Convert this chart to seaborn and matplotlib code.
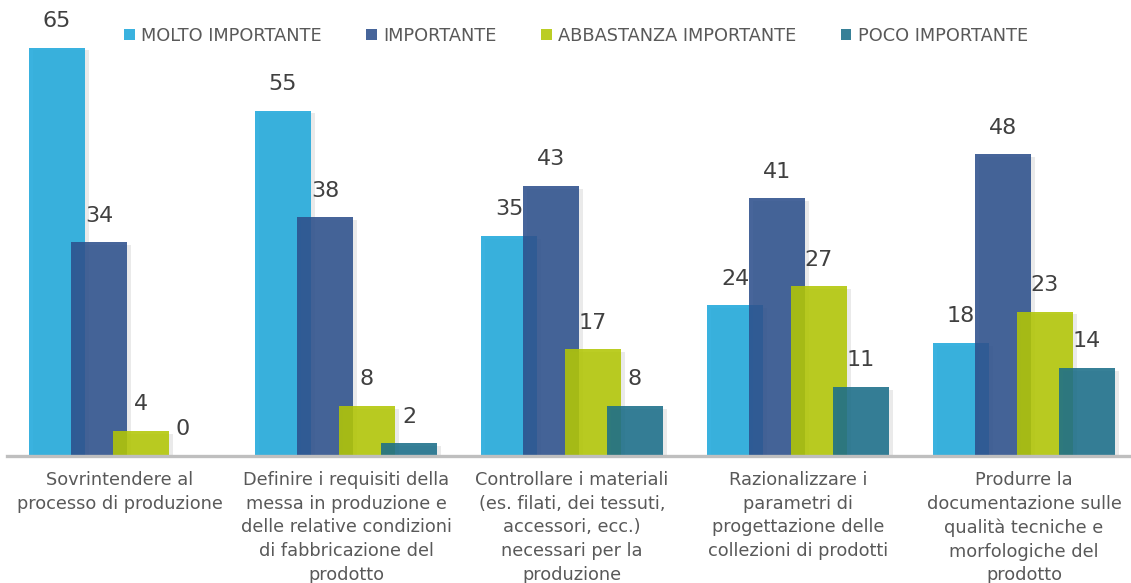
import pandas as pd
import numpy as np
import matplotlib
matplotlib.use("Agg")
import matplotlib.pyplot as plt
import matplotlib.patheffects as pe
from matplotlib.patches import Patch
import seaborn as sns

# ---- data ----
categories = [
    "Sovrintendere al\nprocesso di produzione",
    "Definire i requisiti della\nmessa in produzione e\ndelle relative condizioni\ndi fabbricazione del\nprodotto",
    "Controllare i materiali\n(es. filati, dei tessuti,\naccessori, ecc.)\nnecessari per la\nproduzione",
    "Razionalizzare i\nparametri di\nprogettazione delle\ncollezioni di prodotti",
    "Produrre la\ndocumentazione sulle\nqualità tecniche e\nmorfologiche del\nprodotto",
]
series = ["MOLTO IMPORTANTE", "IMPORTANTE", "ABBASTANZA IMPORTANTE", "POCO IMPORTANTE"]
molto = [65, 55, 35, 24, 18]
importante = [34, 38, 43, 41, 48]
abbastanza = [4, 8, 17, 27, 23]
poco = [0, 2, 8, 11, 14]

colors = ["#1FA8DB", "#2D508C", "#B2C605", "#1B6E89"]
BAR_ALPHA = 0.88

df = pd.DataFrame({
    "cat": categories * 4,
    "serie": np.repeat(series, len(categories)),
    "val": molto + importante + abbastanza + poco,
})

sns.set_theme(style="white")
plt.rcParams["font.family"] = ["DejaVu Sans"]

fig = plt.figure(figsize=(11.31, 5.83), dpi=100)
W, H = 1131, 583
ax = fig.add_axes([7 / W, 127 / H, 1124 / W, (456 - 10) / H])

group_w = 0.743
sns.barplot(data=df, x="cat", y="val", hue="serie", order=categories,
            hue_order=series, palette=colors, saturation=1, width=group_w,
            dodge=True, alpha=BAR_ALPHA, linewidth=0, errorbar=None,
            legend=False, ax=ax)

# widen bars so neighbours overlap (like the excel chart)
real_w = 0.248
shadow = [pe.SimplePatchShadow(offset=(3, -2), shadow_rgbFace="#8c8c8c", alpha=0.18), pe.Normal()]
for cont in ax.containers:
    for b in cont:
        cx = b.get_x() + b.get_width() / 2
        b.set_x(cx - real_w / 2)
        b.set_width(real_w)
        b.set_edgecolor("none")
        b.set_path_effects(shadow)
    ax.bar_label(cont, fmt="%d", padding=12, fontsize=16, color="#404040")

ax.set_xlim(-0.5, -0.5 + 1124 / 226)
ax.set_ylim(0, 71)
ax.set_xlabel("")
ax.set_ylabel("")
ax.set_yticks([])
ax.tick_params(axis="x", length=0, pad=11, labelsize=12.8, colors="#595959")
for lab in ax.get_xticklabels():
    lab.set_linespacing(1.4)
    lab.set_verticalalignment("top")

for s in ["top", "right", "left"]:
    ax.spines[s].set_visible(False)
ax.spines["bottom"].set_color("#BFBFBF")
ax.spines["bottom"].set_linewidth(2.4)

handles = [Patch(facecolor=c, alpha=BAR_ALPHA, edgecolor="none") for c in colors]
fig.legend(handles, series, loc="center", bbox_to_anchor=(576 / W, 1 - 36 / H),
           ncol=4, frameon=False, fontsize=12.8, labelcolor="#595959",
           handlelength=0.6, handleheight=0.6, handletextpad=0.35, columnspacing=2.5)

fig.savefig("out.png", dpi=100)
